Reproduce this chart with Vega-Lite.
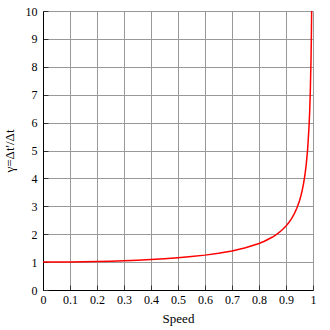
{
  "$schema": "https://vega.github.io/schema/vega-lite/v6.json",
  "width": 270,
  "height": 279,
  "autosize": "none",
  "padding": {"left": 43, "top": 11, "right": 17, "bottom": 40},
  "config": {
    "view": {"stroke": null},
    "font": "Liberation Serif",
    "axis": {
      "labelFont": "Liberation Serif",
      "titleFont": "Liberation Serif",
      "labelFontSize": 12,
      "titleFontSize": 13,
      "labelColor": "#000",
      "titleColor": "#000",
      "titleFontWeight": "normal",
      "domainColor": "#000",
      "tickColor": "#333",
      "gridColor": "#999",
      "gridOpacity": 1,
      "tickSize": -5
    }
  },
  "data": {"values": [
    {"v": 0, "g": 1},
    {"v": 0.1, "g": 1.00504},
    {"v": 0.15, "g": 1.0114},
    {"v": 0.2, "g": 1.0206},
    {"v": 0.25, "g": 1.0328},
    {"v": 0.3, "g": 1.0483},
    {"v": 0.35, "g": 1.0675},
    {"v": 0.4, "g": 1.0911},
    {"v": 0.45, "g": 1.1198},
    {"v": 0.5, "g": 1.1547},
    {"v": 0.55, "g": 1.1974},
    {"v": 0.6, "g": 1.25},
    {"v": 0.65, "g": 1.3159},
    {"v": 0.7, "g": 1.4003},
    {"v": 0.75, "g": 1.5119},
    {"v": 0.8, "g": 1.6667},
    {"v": 0.82, "g": 1.7471},
    {"v": 0.85, "g": 1.8983},
    {"v": 0.86, "g": 1.9597},
    {"v": 0.87, "g": 2.0282},
    {"v": 0.88, "g": 2.1054},
    {"v": 0.89, "g": 2.1932},
    {"v": 0.9, "g": 2.2942},
    {"v": 0.91, "g": 2.4119},
    {"v": 0.92, "g": 2.5516},
    {"v": 0.93, "g": 2.7207},
    {"v": 0.94, "g": 2.931},
    {"v": 0.95, "g": 3.2026},
    {"v": 0.955, "g": 3.3715},
    {"v": 0.96, "g": 3.5714},
    {"v": 0.965, "g": 3.8132},
    {"v": 0.97, "g": 4.1134},
    {"v": 0.975, "g": 4.5004},
    {"v": 0.98, "g": 5.0252},
    {"v": 0.985, "g": 5.7953},
    {"v": 0.9875, "g": 6.3444},
    {"v": 0.99, "g": 7.0888},
    {"v": 0.9925, "g": 8.18},
    {"v": 0.993, "g": 8.4665},
    {"v": 0.994, "g": 9.1424},
    {"v": 0.995, "g": 10.0125}
  ]},
  "mark": {"type": "line", "color": "#ff0000", "strokeWidth": 1.5, "clip": true},
  "encoding": {
    "x": {
      "field": "v", "type": "quantitative", "title": "Speed",
      "scale": {"domain": [0, 1], "nice": false},
      "axis": {"values": [0, 0.1, 0.2, 0.3, 0.4, 0.5, 0.6, 0.7, 0.8, 0.9, 1], "format": ".1~f", "labelPadding": 9, "titlePadding": 7, "labelFlush": false}
    },
    "y": {
      "field": "g", "type": "quantitative", "title": "γ=Δt'/Δt",
      "scale": {"domain": [0, 10], "nice": false},
      "axis": {"values": [0, 1, 2, 3, 4, 5, 6, 7, 8, 9, 10], "labelPadding": 11, "titlePadding": 9}
    }
  }
}
